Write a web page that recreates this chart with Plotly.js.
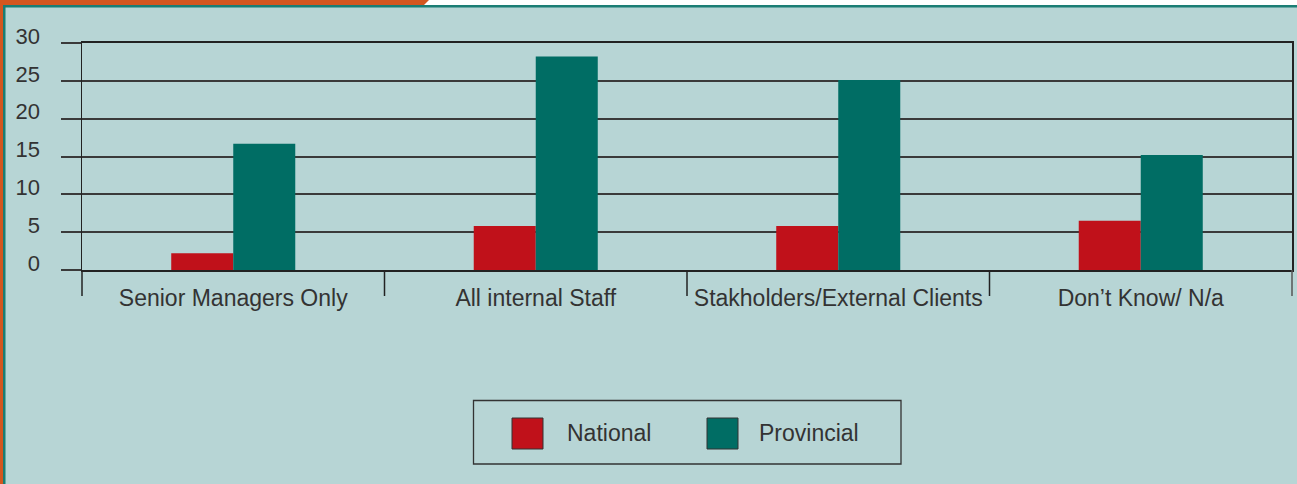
<!DOCTYPE html>
<html>
<head>
<meta charset="utf-8">
<script src="https://cdn.plot.ly/plotly-3.0.1.min.js"></script>
<style>html,body{margin:0;padding:0;background:#b7d5d5;}#chart{width:1297px;height:484px;}</style>
</head>
<body>
<div id="chart"></div>
<script>
const categories = ["Senior Managers Only", "All internal Staff", "Stakholders/External Clients", "Don\u2019t Know/ N/a"];
const seriesNames = ["National", "Provincial"];
const national = [2.2, 5.8, 5.8, 6.5];
const provincial = [16.7, 28.2, 25.1, 15.2];
const yTicks = [0, 5, 10, 15, 20, 25, 30];
const colors = ["#c0111a", "#006d64"];

const W = 1297, H = 484;
const M = {l: 82, r: 5, t: 43, b: 214};
const PW = W - M.l - M.r, PH = H - M.t - M.b;
const px = x => (x - M.l) / PW;
const py = y => (H - M.b - y) / PH;
const FONT = "Liberation Sans, Arial, sans-serif";
const TXT = "#333333";

const traces = [
  {type: "bar", x: categories, y: national, name: seriesNames[0], marker: {color: colors[0]}, showlegend: false, hoverinfo: "skip"},
  {type: "bar", x: categories, y: provincial, name: seriesNames[1], marker: {color: colors[1]}, showlegend: false, hoverinfo: "skip"}
];

const shapes = [];
// frame decoration
shapes.push({type: "rect", xref: "paper", yref: "paper", x0: px(0), x1: px(W), y0: py(0), y1: py(5), fillcolor: "#ffffff", line: {width: 0}, layer: "below"});
shapes.push({type: "path", xref: "paper", yref: "paper",
  path: `M ${px(0)} ${py(0)} L ${px(429)} ${py(0)} L ${px(424)} ${py(5)} L ${px(0)} ${py(5)} Z`,
  fillcolor: "#d4561f", line: {width: 0}, layer: "below"});
shapes.push({type: "rect", xref: "paper", yref: "paper", x0: px(0), x1: px(3), y0: py(0), y1: py(H), fillcolor: "#d4561f", line: {width: 0}, layer: "below"});
shapes.push({type: "rect", xref: "paper", yref: "paper", x0: px(3), x1: px(W), y0: py(5), y1: py(7.5), fillcolor: "#1b7d74", line: {width: 0}, layer: "below"});
shapes.push({type: "rect", xref: "paper", yref: "paper", x0: px(3), x1: px(5.5), y0: py(5), y1: py(H), fillcolor: "#1b7d74", line: {width: 0}, layer: "below"});
// category divider ticks below axis
for (let i = 0; i <= categories.length; i++) {
  shapes.push({type: "line", xref: "paper", yref: "paper", x0: i / categories.length, x1: i / categories.length, y0: py(296), y1: 0,
    line: {color: i === categories.length ? "#555555" : "#222222", width: 1.5}});
}
// legend box
shapes.push({type: "rect", xref: "paper", yref: "paper", x0: px(473.5), x1: px(901), y0: py(400.5), y1: py(464), line: {color: "#333333", width: 1.3}, fillcolor: "rgba(0,0,0,0)"});
const legX = [512, 707], legTX = [565, 757];
const annotations = [];
seriesNames.forEach((n, i) => {
  shapes.push({type: "rect", xref: "paper", yref: "paper", x0: px(legX[i]), x1: px(legX[i] + 31), y0: py(418), y1: py(449), fillcolor: colors[i], line: {color: "#333333", width: 1}});
  annotations.push({xref: "paper", yref: "paper", x: px(legTX[i]), y: py(433), xanchor: "left", yanchor: "middle", text: n, showarrow: false, font: {family: FONT, size: 23, color: TXT}});
});

const layout = {
  width: W, height: H,
  margin: M,
  paper_bgcolor: "#b7d5d5",
  plot_bgcolor: "#b7d5d5",
  barmode: "group",
  bargap: 0.59,
  bargroupgap: 0,
  showlegend: false,
  font: {family: FONT, size: 23, color: TXT},
  xaxis: {
    type: "category",
    range: [-0.5, categories.length - 0.5],
    showline: true, linecolor: "#222222", linewidth: 2, mirror: true,
    ticks: "", showgrid: false, zeroline: false,
    tickfont: {family: FONT, size: 23, color: TXT},
    ticklabelstandoff: 6
  },
  yaxis: {
    range: [0, 30],
    tickvals: yTicks,
    ticktext: yTicks.map(String),
    showgrid: true, gridcolor: "#3a3a3a", gridwidth: 2,
    zeroline: false,
    showline: true, linecolor: "#222222", linewidth: 1.5, mirror: true,
    ticks: "outside", ticklen: 20, tickcolor: "#3a3a3a", tickwidth: 2,
    ticklabelstandoff: 16,
    ticklabelshift: -7,
    tickfont: {family: FONT, size: 22, color: TXT}
  },
  shapes: shapes,
  annotations: annotations
};

Plotly.newPlot("chart", traces, layout, {displayModeBar: false, staticPlot: true});
</script>
</body>
</html>
